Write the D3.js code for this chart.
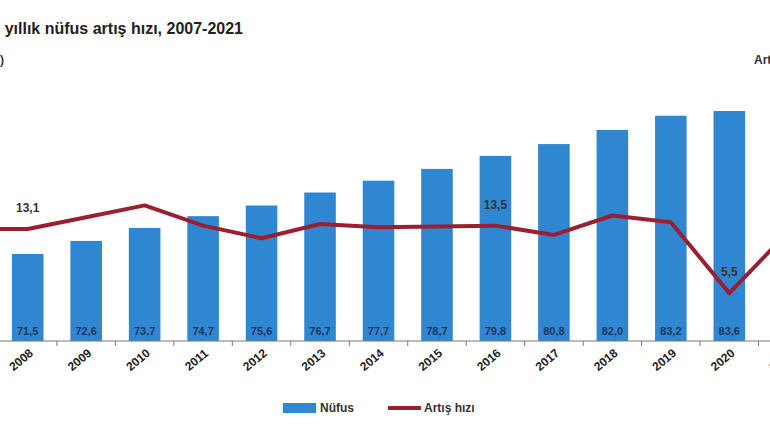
<!DOCTYPE html>
<html><head><meta charset="utf-8">
<script src="https://cdn.jsdelivr.net/npm/d3@7"></script>
<style>body{margin:0;background:#fff;overflow:hidden}text{font-family:"Liberation Sans",Arial,sans-serif}</style>
</head><body><svg width="770" height="433"></svg>
<script>
const years = ["2007","2008","2009","2010","2011","2012","2013","2014","2015","2016","2017","2018","2019","2020","2021"];
const population = [70.6,71.5,72.6,73.7,74.7,75.6,76.7,77.7,78.7,79.8,80.8,82.0,83.2,83.6,84.7];
const growth = [13.1,13.1,14.5,15.9,13.5,12.0,13.7,13.3,13.4,13.5,12.4,14.7,13.9,5.5,12.7];
const shownRates = ["2008","2016","2020"];

const svg = d3.select("svg");
const baseY = 341;

// the chart is wider than the window, so the scale runs off both sides
const x = d3.scaleBand().domain(years).range([-60, 817]).paddingInner(0.46).paddingOuter(0.23);
const yPop = d3.scaleLinear().domain([64.13, 83.6]).range([baseY, 111]);
const yRate = d3.scaleLinear().domain([0, 13.1]).range([339.5, 229]);

svg.append("text").attr("x", 243).attr("y", 34).attr("text-anchor", "end")
  .style("font-size", "16px").style("font-weight", "bold").attr("fill", "#222")
  .text("Türkiye nüfusu ve yıllık nüfus artış hızı, 2007-2021");
svg.append("text").attr("x", 4).attr("y", 64).attr("text-anchor", "end")
  .style("font-size", "12px").style("font-weight", "bold").attr("fill", "#333").text("(Milyon)");
svg.append("text").attr("x", 754).attr("y", 64)
  .style("font-size", "12px").style("font-weight", "bold").attr("fill", "#333").text("Artış hızı (‰)");

svg.append("g").selectAll("rect").data(years).join("rect")
  .attr("x", d => x(d)).attr("width", x.bandwidth())
  .attr("y", (d, i) => yPop(population[i]))
  .attr("height", (d, i) => baseY - yPop(population[i]))
  .attr("fill", "#2f87d2");

svg.append("g").selectAll("text").data(years).join("text")
  .attr("x", d => x(d) + x.bandwidth() / 2).attr("y", 335).attr("text-anchor", "middle")
  .style("font-size", "11px").style("font-weight", "bold").attr("fill", "#1b3560")
  .text((d, i) => population[i].toFixed(1).replace(".", ","));

// x axis
const axis = svg.append("g").attr("transform", `translate(0,${baseY})`);
axis.append("line").attr("x1", 0).attr("x2", 770).attr("stroke", "#777");
const step = x.step();
axis.selectAll("line.t").data(years).join("line").attr("class", "t")
  .attr("x1", d => x(d) + x.bandwidth() / 2 + step / 2).attr("x2", d => x(d) + x.bandwidth() / 2 + step / 2)
  .attr("y1", 0).attr("y2", 5).attr("stroke", "#777");
axis.selectAll("text").data(years).join("text")
  .attr("transform", d => `translate(${x(d) + x.bandwidth() / 2 - 4},${22}) rotate(-40)`)
  .attr("text-anchor", "middle").style("font-size", "12px").style("font-weight", "bold").attr("fill", "#222")
  .text(d => d);

const line = d3.line().x((d, i) => x(years[i]) + x.bandwidth() / 2).y(d => yRate(d));
svg.append("path").datum(growth).attr("d", line)
  .attr("fill", "none").attr("stroke", "#9c1f30").attr("stroke-width", 4).attr("stroke-linejoin", "round");

svg.append("g").selectAll("text").data(shownRates).join("text")
  .attr("x", d => x(d) + x.bandwidth() / 2).attr("y", d => yRate(growth[years.indexOf(d)]) - 17)
  .attr("text-anchor", "middle").style("font-size", "12px").style("font-weight", "bold").attr("fill", "#333")
  .text(d => growth[years.indexOf(d)].toFixed(1).replace(".", ","));

// legend
const lg = svg.append("g").attr("transform", "translate(283,408)");
lg.append("rect").attr("x", 0).attr("y", -5).attr("width", 33).attr("height", 10).attr("fill", "#2f87d2");
lg.append("text").attr("x", 37).attr("y", 4).style("font-size", "12px").style("font-weight", "bold").attr("fill", "#333").text("Nüfus");
lg.append("line").attr("x1", 105).attr("x2", 138).attr("stroke", "#9c1f30").attr("stroke-width", 4);
lg.append("text").attr("x", 141).attr("y", 4).style("font-size", "12px").style("font-weight", "bold").attr("fill", "#333").text("Artış hızı");
</script></body></html>
